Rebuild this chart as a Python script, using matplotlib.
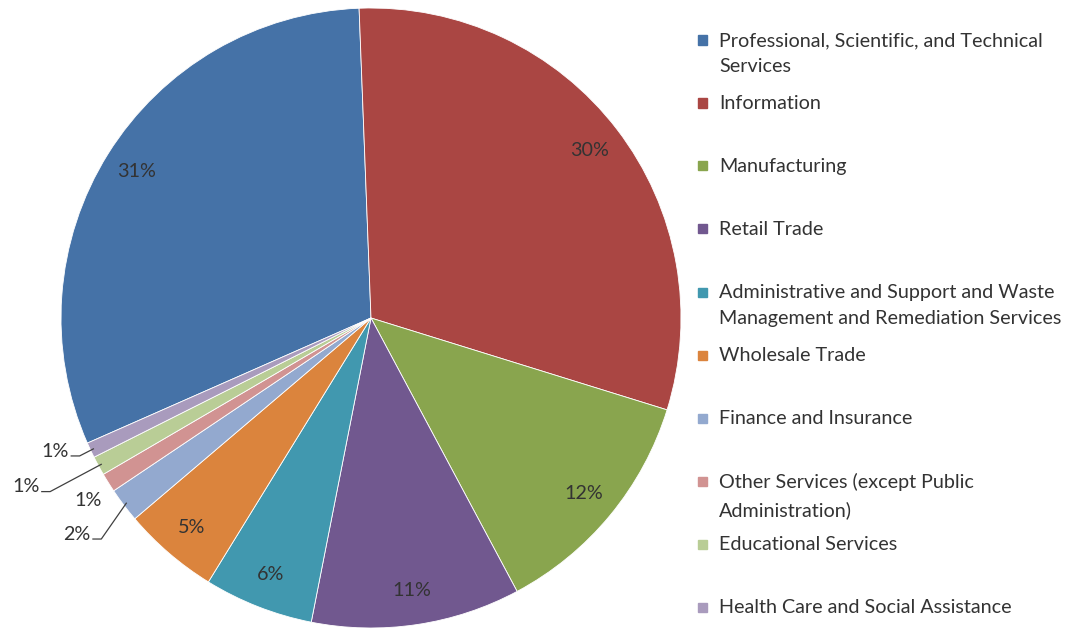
import matplotlib
matplotlib.use("Agg")
import matplotlib.pyplot as plt
import numpy as np

plt.rcParams['font.family'] = ['Lato', 'DejaVu Sans']

# Share of companies by industry
industries = [
    "Professional, Scientific, and Technical\nServices",
    "Information",
    "Manufacturing",
    "Retail Trade",
    "Administrative and Support and Waste\nManagement and Remediation Services",
    "Wholesale Trade",
    "Finance and Insurance",
    "Other Services (except Public\nAdministration)",
    "Educational Services",
    "Health Care and Social Assistance",
]
shares = [31.0, 30.4, 12.4, 10.9, 5.7, 5.0, 1.8, 1.0, 1.0, 0.8]
colors = ["#4572A7", "#AA4643", "#89A54E", "#71588F", "#4198AF",
          "#DB843D", "#93A9CF", "#D19392", "#B9CD96", "#A99BBD"]

text_color = "#333333"
fsize = 14.2

fig = plt.figure(figsize=(10.73, 6.34), dpi=100)
ax = fig.add_axes([61 / 1073, 6 / 634, 620 / 1073, 620 / 634])

# Professional ends just left of 12 o'clock, the rest go clockwise from there
start = 92.2 + shares[0] * 3.6
wedges, _ = ax.pie(shares, colors=colors, startangle=start, counterclock=False,
                   radius=1.0, wedgeprops=dict(edgecolor="white", linewidth=0.6))
ax.set_xlim(-1, 1)
ax.set_ylim(-1, 1)
ax.set_aspect("equal")
ax.axis("off")

# labels inside the bigger slices
for i, w in enumerate(wedges[:6]):
    mid = np.deg2rad((w.theta1 + w.theta2) / 2)
    ax.text(0.89 * np.cos(mid), 0.89 * np.sin(mid), f"{shares[i]:.0f}%",
            ha="center", va="center", fontsize=fsize, color=text_color)

# small slices: labels outside, some with leader lines
small_layout = {
    6: ((-0.905, -0.698), True),   # Finance 2%
    7: ((-0.87, -0.59), False),    # Other 1%
    8: ((-1.07, -0.545), True),    # Educational 1%
    9: ((-0.975, -0.43), True),    # Health 1%
}
for i, ((tx, ty), leader) in small_layout.items():
    w = wedges[i]
    ax.text(tx, ty, f"{shares[i]:.0f}%", ha="right", va="center",
            fontsize=fsize, color=text_color, clip_on=False)
    if leader:
        mid = np.deg2rad((w.theta1 + w.theta2) / 2)
        ex, ey = 0.99 * np.cos(mid), 0.99 * np.sin(mid)
        ax.plot([tx + 0.008, tx + 0.035, ex], [ty - 0.015, ty - 0.015, ey],
                color="#404040", lw=0.9, clip_on=False)

# legend, one slot per entry
top_px = 40
step_px = 63.0
for i, name in enumerate(industries):
    y = 1 - (top_px + i * step_px) / 634
    fig.patches.append(plt.Rectangle((698 / 1073, y - 4.5 / 634), 9 / 1073, 9 / 634,
                                     transform=fig.transFigure, color=colors[i]))
    fig.text(719 / 1073, y + 8 / 634, name, ha="left", va="top", fontsize=fsize,
             color=text_color, linespacing=1.65)

fig.savefig("out.png", dpi=100)
